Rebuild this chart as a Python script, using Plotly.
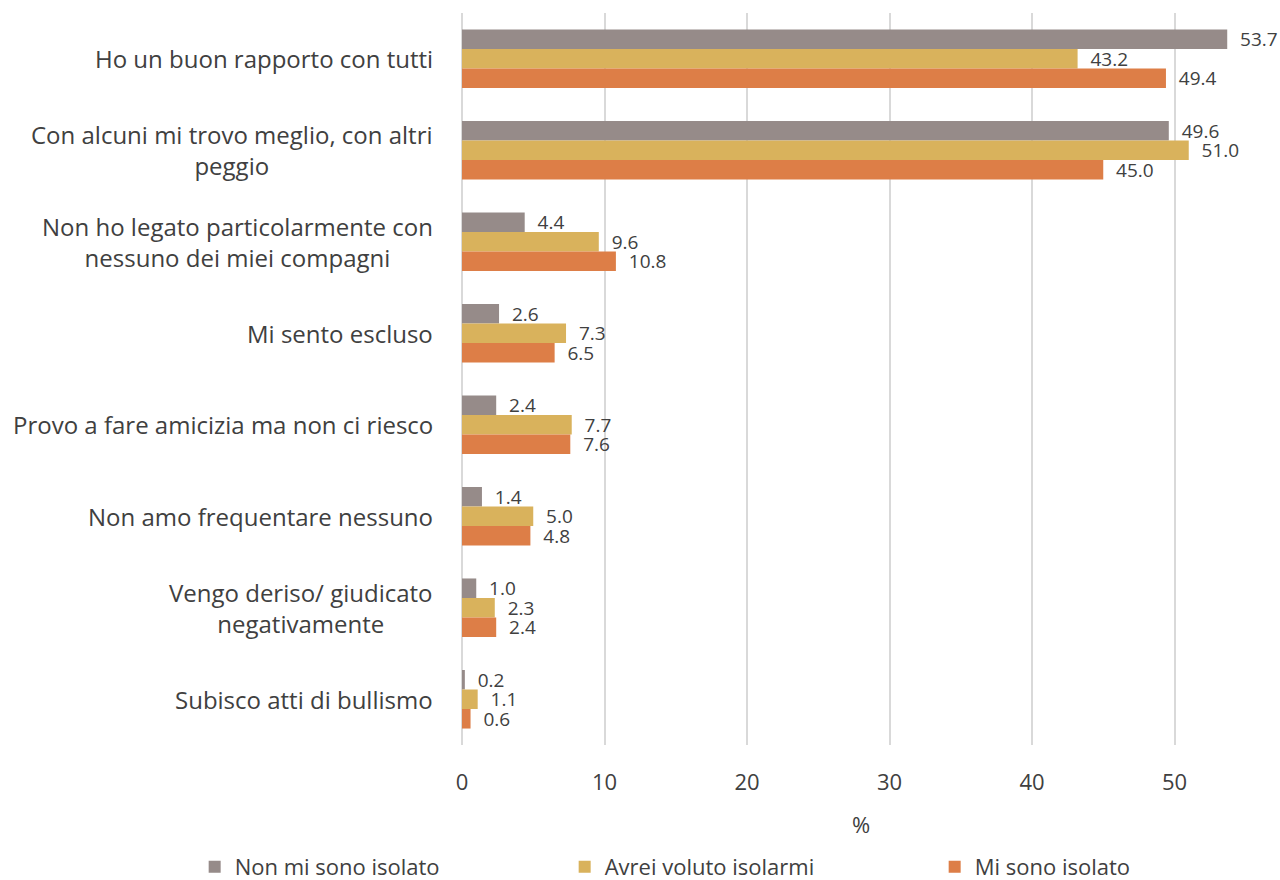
import plotly.graph_objects as go

categories = [
    "Ho un buon rapporto con tutti",
    "Con alcuni mi trovo meglio, con altri<br>peggio",
    "Non ho legato particolarmente con<br>nessuno dei miei compagni",
    "Mi sento escluso",
    "Provo a fare amicizia ma non ci riesco",
    "Non amo frequentare nessuno",
    "Vengo deriso/ giudicato<br>negativamente",
    "Subisco atti di bullismo",
]
series_names = ["Non mi sono isolato", "Avrei voluto isolarmi", "Mi sono isolato"]
non_isolato = [53.7, 49.6, 4.4, 2.6, 2.4, 1.4, 1.0, 0.2]
avrei_voluto = [43.2, 51.0, 9.6, 7.3, 7.7, 5.0, 2.3, 1.1]
isolato = [49.4, 45.0, 10.8, 6.5, 7.6, 4.8, 2.4, 0.6]
colors = ["#968B89", "#D9B25C", "#DD7E47"]

FONT = "Open Sans"
TXT = "#404040"
NB = "\u00a0"

fig = go.Figure()
for name, vals, col in zip(series_names, [non_isolato, avrei_voluto, isolato], colors):
    fig.add_trace(go.Bar(
        y=categories, x=vals, name=name, orientation="h",
        marker=dict(color=col, line=dict(width=0)),
        text=[f"{NB*2}{v:.1f}" for v in vals], textposition="outside",
        constraintext="none",
        textfont=dict(size=19, color=TXT, family=FONT),
        cliponaxis=False,
    ))

for cat in categories:
    fig.add_annotation(
        x=-0.034, xref="paper", xanchor="right",
        y=cat, yref="y", yanchor="middle",
        text=cat, showarrow=False, align="center",
        font=dict(size=24, color=TXT, family=FONT),
    )

fig.update_layout(
    width=1280, height=880,
    margin=dict(l=462, r=20, t=13, b=135, autoexpand=False),
    barmode="group", bargap=0.36, bargroupgap=0,
    plot_bgcolor="white", paper_bgcolor="white",
    font=dict(family=FONT, color=TXT, size=20),
    legend=dict(orientation="h", x=-0.335, xanchor="left", y=-0.138, yanchor="top",
                font=dict(size=22, color=TXT, family=FONT), entrywidth=325,
                itemwidth=30, traceorder="normal"),
    xaxis=dict(range=[0, 56], tickvals=[0, 10, 20, 30, 40, 50], showgrid=True,
               gridcolor="#D9D9D9", gridwidth=1.5, zeroline=True, zerolinecolor="#D9D9D9",
               zerolinewidth=1.5, showline=False, ticks="", ticklen=0, automargin=False,
               ticklabelstandoff=22,
               tickfont=dict(size=22, color=TXT),
               title=dict(text="%", font=dict(size=22, color=TXT), standoff=22)),
    yaxis=dict(autorange="reversed", showgrid=False, showline=False, ticks="",
               showticklabels=False, automargin=False),
)

fig.write_html("out.html", config={"displayModeBar": False},
               post_script="document.body.style.margin='0';document.body.style.overflow='hidden';")
